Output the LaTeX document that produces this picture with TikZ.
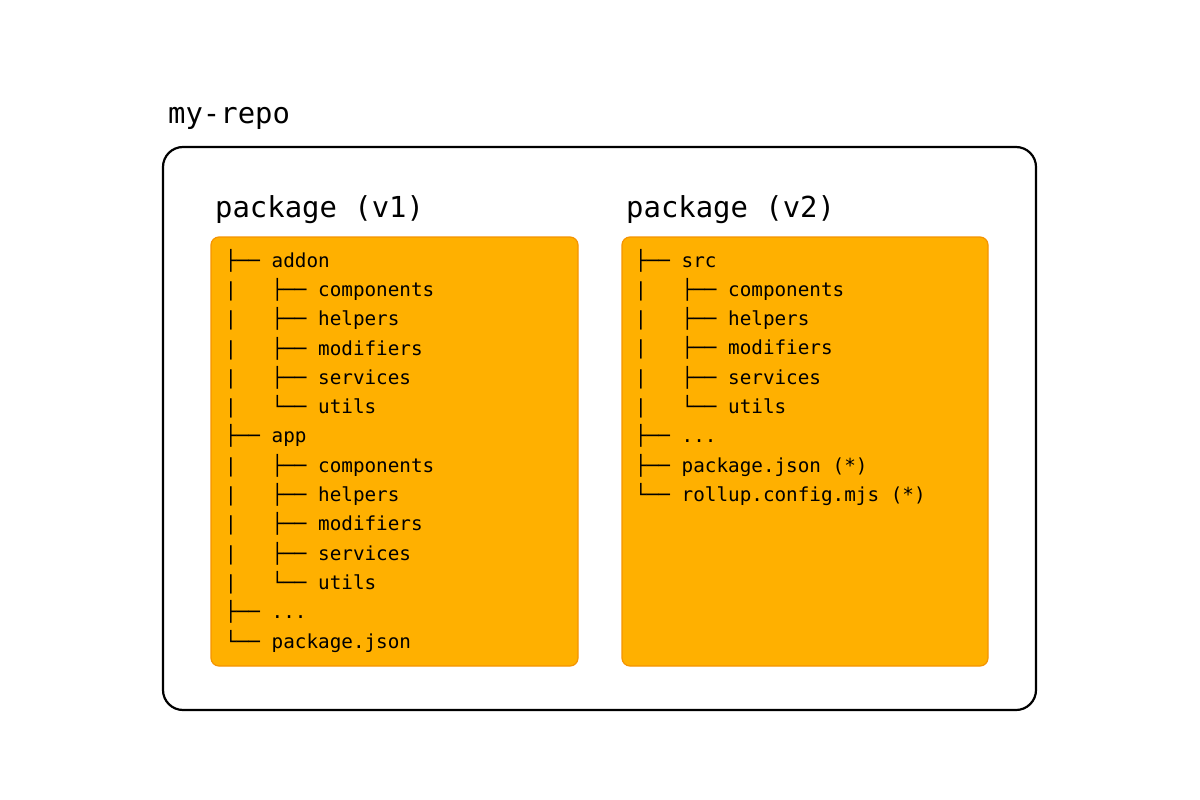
\documentclass[tikz,border=0pt]{standalone}
\usepackage{fontspec}
\setmonofont{DejaVu Sans Mono}
\definecolor{boxfill}{HTML}{FFB000}
\definecolor{boxedge}{HTML}{F59400}
\newcommand\tb{├──\hphantom{x}}
\newcommand\te{└──\hphantom{x}}
\newcommand\tp{|\hphantom{xxx}}
\begin{document}
\begin{tikzpicture}[x=1pt,y=-1pt,
  title/.style={anchor=base west,inner sep=0pt,font=\ttfamily\fontsize{28.9}{34}\selectfont},
  pkgbox/.style={draw=boxedge,line width=1.2pt,fill=boxfill,rounded corners=8pt},
  tree/.style={anchor=base west,inner sep=0pt,align=left,font=\ttfamily\fontsize{19.3}{29.3}\selectfont},
  repo/.style={draw=black,line width=2.2pt,rounded corners=20pt}]
\useasboundingbox[fill=white] (0,0) rectangle (1200,800);
\draw[repo] (163,147) rectangle (1036,710);
\node[title] (repotitle) at (168,123) {my-repo};
\node[title] (t1) at (215,217) {package (v1)};
\node[title] (t2) at (626,217) {package (v2)};
\draw[pkgbox] (211,237) rectangle (578,666);
\draw[pkgbox] (622,237) rectangle (988,666);
\node[tree] (tree1) at (225,648) {\tb addon\\
\tp\tb components\\
\tp\tb helpers\\
\tp\tb modifiers\\
\tp\tb services\\
\tp\te utils\\
\tb app\\
\tp\tb components\\
\tp\tb helpers\\
\tp\tb modifiers\\
\tp\tb services\\
\tp\te utils\\
\tb ...\\
\te package.json};
\node[tree] (tree2) at (635,501.4) {\tb src\\
\tp\tb components\\
\tp\tb helpers\\
\tp\tb modifiers\\
\tp\tb services\\
\tp\te utils\\
\tb ...\\
\tb package.json (*)\\
\te rollup.config.mjs (*)};
\end{tikzpicture}
\end{document}
